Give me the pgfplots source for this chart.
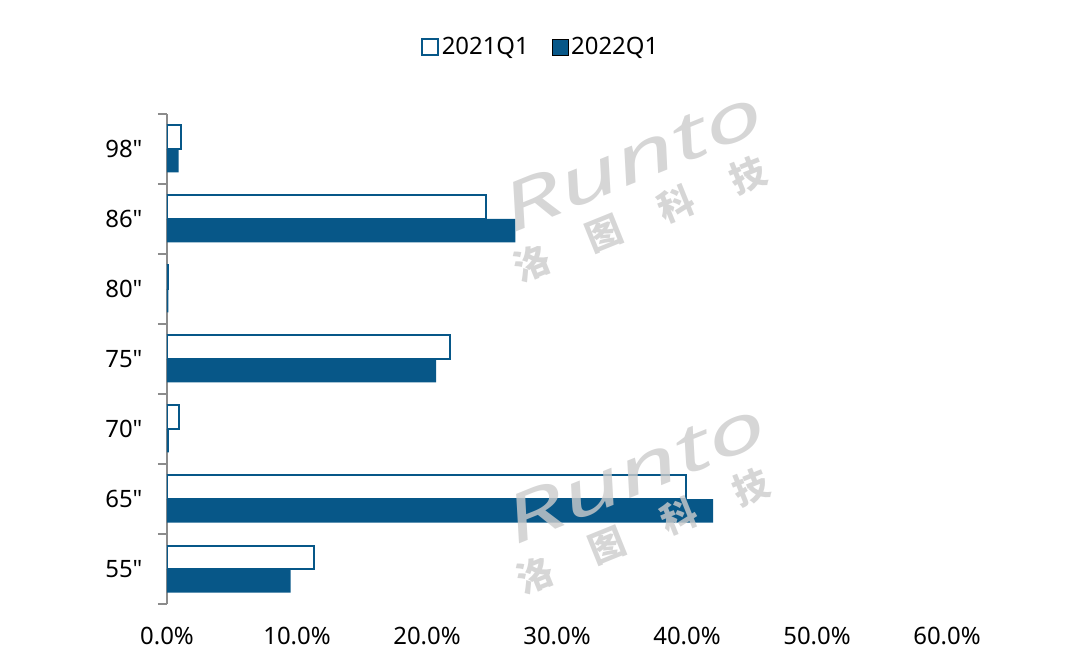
\documentclass[border=0pt]{standalone}
\usepackage{pgfplots}
\pgfplotsset{compat=1.18}
\usepackage{fontspec}
\setmainfont{Noto Sans}
\newfontfamily\nsf{Noto Sans}
\newfontfamily\cjk{Noto Sans CJK SC}
\definecolor{rblue}{RGB}{7,87,136}
\definecolor{axgray}{RGB}{140,140,140}
\begin{document}
\begin{tikzpicture}
\begin{axis}[
  at={(0,0)}, anchor=south west,
  scale only axis, width=780bp, height=490bp,
  xbar, bar width=23.5bp,
  xmin=0, xmax=60, ymin=-0.5, ymax=6.5,
  axis lines*=left,
  x axis line style={draw=none},
  y axis line style={draw=axgray, line width=2bp},
  xtick={0,10,20,30,40,50,60},
  xticklabels={0.0\%,10.0\%,20.0\%,30.0\%,40.0\%,50.0\%,60.0\%},
  xtick style={draw=none},
  ytick={0,1,2,3,4,5,6},
  yticklabels={55",65",70",75",80",86",98"},
  minor ytick={-0.5,0.5,1.5,2.5,3.5,4.5,5.5,6.5},
  major tick length=0pt, minor tick length=9bp,
  tick align=outside,
  ytick style={draw=axgray, line width=2bp},
  ticklabel style={font=\nsf\fontsize{24}{28}\selectfont},
  xticklabel style={yshift=-20bp},
  yticklabel style={xshift=-21bp},
  legend style={at={(0.4795,1.1367)}, anchor=center, draw=none, fill=none,
    font=\nsf\fontsize{24}{28}\selectfont, legend columns=2,
    nodes={inner sep=3bp},
    /tikz/every even column/.append style={column sep=20bp}},
  legend image code/.code={\draw[#1] (0bp,-8bp) rectangle (16bp,8bp);},
]
\addplot[draw=rblue, fill=white, line width=2bp, bar shift=11.75bp]
  coordinates {(11.3,0) (39.9,1) (0.9,2) (21.8,3) (0.1,4) (24.5,5) (1.1,6)};
\addplot[draw=none, fill=rblue, bar shift=-11.75bp]
  coordinates {(9.5,0) (42.0,1) (0.15,2) (20.7,3) (0.1,4) (26.8,5) (0.9,6)};
\legend{2021Q1,2022Q1}
\end{axis}
\begin{scope}[opacity=0.8]
\node[rotate=22, text=gray!40, font=\nsf\fontsize{66}{66}\selectfont\itshape] at (465bp,444bp) {\scalebox{1.6}[1]{Runto}};
\node[rotate=22, text=gray!40, font=\cjk\fontsize{36}{36}\selectfont\bfseries] at (473bp,385bp) {洛\hspace{42bp}图\hspace{42bp}科\hspace{42bp}技};
\node[rotate=22, text=gray!40, font=\nsf\fontsize{66}{66}\selectfont\itshape] at (468bp,132bp) {\scalebox{1.6}[1]{Runto}};
\node[rotate=22, text=gray!40, font=\cjk\fontsize{36}{36}\selectfont\bfseries] at (476bp,73bp) {洛\hspace{42bp}图\hspace{42bp}科\hspace{42bp}技};
\end{scope}
\pgfresetboundingbox
\useasboundingbox (-167bp,-63bp) rectangle (910bp,604bp);
\end{tikzpicture}
\end{document}
